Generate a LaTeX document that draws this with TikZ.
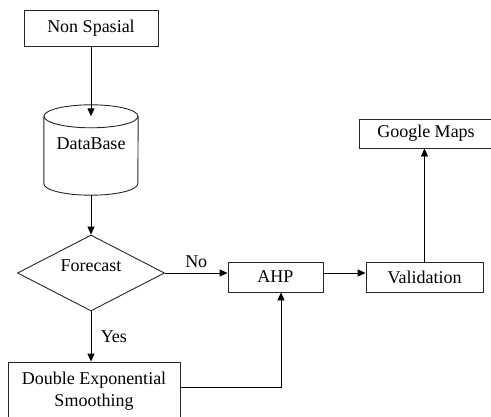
\documentclass[tikz,border=0pt]{standalone}
\usepackage{fontspec}
\setmainfont{Liberation Serif}
\usetikzlibrary{shapes.geometric,arrows.meta}
\begin{document}
\begin{tikzpicture}[x=1pt,y=-1pt,
  every node/.style={font=\fontsize{18}{22.5}\selectfont},
  box/.style={draw=black!85, line width=0.9pt, rectangle, inner sep=0pt},
  arr/.style={draw=black, line width=0.9pt, -{Triangle[length=8pt,width=7pt]}},
  ln/.style={draw=black!85, line width=0.9pt}]
\useasboundingbox (0,0) rectangle (491,416);
\clip (0,0) rectangle (491,416);
% nodes
\node[box, minimum width=134pt, minimum height=36pt] (ns) at (91,28) {Non Spasial};
\node[minimum width=94pt, minimum height=90pt, inner sep=0pt] (db) at (91,150) {};
\node (dbt) at (91,144) {DataBase};
\node[draw=black!85, line width=0.9pt, diamond, aspect=2, inner sep=0pt,
      minimum width=147pt, minimum height=76pt] (fc) at (91,273) {};
\node (fct) at (91,266) {Forecast};
\node[box, minimum width=172pt, minimum height=58pt, align=center] (des) at (94,391)
  {Double Exponential\\Smoothing};
\node[box, minimum width=95pt, minimum height=30pt] (ahp) at (275.5,277) {AHP};
\node[box, minimum width=117pt, minimum height=30pt] (val) at (424.5,277) {Validation};
\node[box, minimum width=134pt, minimum height=29pt] (gm) at (426,133.5) {Google Maps};
% cylinder outline
\path ([yshift=-11.5pt]db.north west) coordinate (tl)
      ([yshift=11.5pt]db.south west) coordinate (bl)
      ([yshift=-11.5pt]db.north east) coordinate (tr);
\draw[ln] ([yshift=-11.5pt]db.north) ellipse [x radius=47pt, y radius=11.5pt];
\draw[ln] (tl) -- (bl) arc[start angle=180, end angle=360, x radius=47pt, y radius=11.5pt] -- (tr);
% connectors
\draw[arr] (ns.south) -- ([yshift=-11.5pt]db.north);
\draw[arr] (db.south) -- (fc.north);
\draw[arr] (fc.east) -- (fc.east -| ahp.west) node[midway, above=2pt] (no) {No};
\draw[arr] (fc.south) -- (fc.south |- des.north) node[midway, right=6pt] (yes) {Yes};
\draw[arr] ([yshift=-26pt]des.north east) -| ([xshift=5.5pt]ahp.south);
\draw[arr] ([yshift=4pt]ahp.east) -- ([yshift=4pt]val.west);
\draw[arr] (val.north) -- (gm.south -| val.north);
\end{tikzpicture}
\end{document}
